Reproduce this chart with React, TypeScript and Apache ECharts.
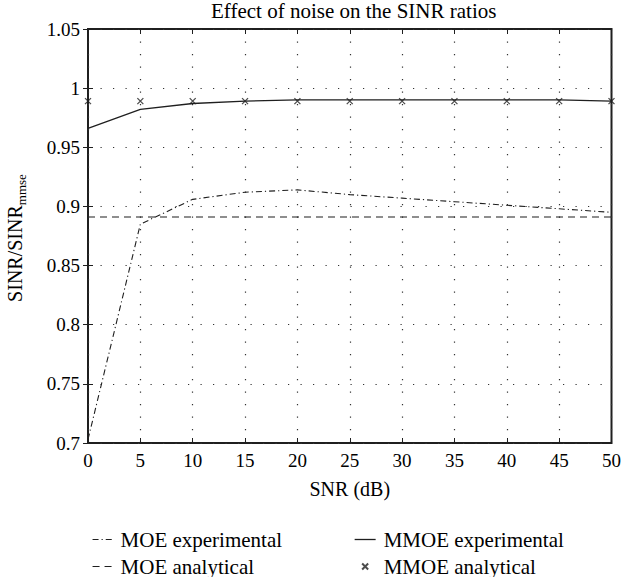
import React, { useEffect, useRef } from "react";
import * as echarts from "echarts";

const snrValues = [0, 5, 10, 15, 20, 25, 30, 35, 40, 45, 50];
const moeExperimental = [0.703, 0.885, 0.906, 0.912, 0.914, 0.910, 0.907, 0.904, 0.901, 0.898, 0.895];
const moeAnalytical = [0.891, 0.891, 0.891, 0.891, 0.891, 0.891, 0.891, 0.891, 0.891, 0.891, 0.891];
const mmoeExperimental = [0.966, 0.982, 0.987, 0.989, 0.990, 0.990, 0.990, 0.990, 0.990, 0.990, 0.989];
const mmoeAnalytical = [0.989, 0.989, 0.989, 0.989, 0.989, 0.989, 0.989, 0.989, 0.989, 0.989, 0.989];

const seriesNames = ["MOE experimental", "MOE analytical", "MMOE experimental", "MMOE analytical"];
const titleText = "Effect of noise on the SINR ratios";
const xAxisName = "SNR (dB)";

const FONT = "Liberation Serif, serif";
const INK = "#1f1f1f";

function pairs(ys: number[]) {
  return snrValues.map((x, i) => [x, ys[i]]);
}

export default function App() {
  const ref = useRef<HTMLDivElement>(null);

  useEffect(() => {
    if (!ref.current) return;
    const chart = echarts.init(ref.current, undefined, { renderer: "svg" });

    const gridDots = { show: true, lineStyle: { color: "#333", width: 1.2, type: [1.2, 11.3] as any } };
    const inTick = { show: true, inside: true, length: 5, lineStyle: { color: INK, width: 1 } };
    const legendText = { fontFamily: FONT, fontSize: 21, color: "#000", lineHeight: 20, padding: [0, 0, 0, 3] };

    chart.setOption({
      animation: false,
      backgroundColor: "#fff",
      textStyle: { fontFamily: FONT },
      title: {
        text: titleText,
        left: 211,
        top: 0,
        padding: 0,
        textStyle: { fontFamily: FONT, fontSize: 21, fontWeight: "normal", color: "#000" },
      },
      grid: {
        left: 88,
        top: 29,
        width: 526,
        height: 414,
        show: true,
        borderColor: INK,
        borderWidth: 2,
        backgroundColor: "transparent",
      },
      xAxis: [
        {
          type: "value",
          min: 0,
          max: 50,
          interval: 5,
          name: xAxisName,
          nameLocation: "middle",
          nameGap: 36,
          nameTextStyle: { fontFamily: FONT, fontSize: 20, color: "#000" },
          axisLine: { show: false },
          axisTick: inTick,
          axisLabel: { fontFamily: FONT, fontSize: 19, color: "#000", margin: 8 },
          splitLine: gridDots,
        },
        {
          type: "value",
          position: "top",
          min: 0,
          max: 50,
          interval: 5,
          axisLine: { show: false },
          axisTick: inTick,
          axisLabel: { show: false },
          splitLine: { show: false },
        },
      ],
      yAxis: [
        {
          type: "value",
          min: 0.7,
          max: 1.05,
          interval: 0.05,
          axisLine: { show: false },
          axisTick: inTick,
          axisLabel: { fontFamily: FONT, fontSize: 19, color: "#000", margin: 8 },
          splitLine: gridDots,
        },
        {
          type: "value",
          position: "right",
          min: 0.7,
          max: 1.05,
          interval: 0.05,
          axisLine: { show: false },
          axisTick: inTick,
          axisLabel: { show: false },
          splitLine: { show: false },
        },
      ],
      legend: [
        {
          left: 92,
          top: 529,
          orient: "vertical",
          padding: 0,
          itemGap: 6,
          itemWidth: 20,
          itemHeight: 14,
          lineStyle: { width: 1.1 },
          data: [
            { name: seriesNames[0], itemStyle: { opacity: 0 } },
            { name: seriesNames[1], itemStyle: { opacity: 0 } },
          ],
          textStyle: legendText,
        },
        {
          left: 354,
          top: 529,
          orient: "vertical",
          padding: 0,
          itemGap: 6,
          itemWidth: 21,
          itemHeight: 6,
          lineStyle: { width: 1.3 },
          data: [
            { name: seriesNames[2], itemStyle: { opacity: 0 } },
            { name: seriesNames[3] },
          ],
          textStyle: legendText,
        },
      ],
      graphic: [
        {
          type: "text",
          x: 15,
          y: 238,
          rotation: Math.PI / 2,
          style: {
            text: "{a|SINR/SINR}{b|mmse}",
            align: "center",
            verticalAlign: "middle",
            fill: "#000",
            fontFamily: FONT,
            fontSize: 20,
            rich: {
              a: { fontFamily: FONT, fontSize: 20, lineHeight: 26, verticalAlign: "middle", fill: "#000" },
              b: { fontFamily: FONT, fontSize: 13, lineHeight: 13, verticalAlign: "bottom", fill: "#000" },
            },
          },
        },
      ],
      series: [
        {
          name: seriesNames[0],
          type: "line",
          data: pairs(moeExperimental),
          symbol: "none",
          color: INK,
          itemStyle: { opacity: 0 },
          lineStyle: { color: INK, width: 1.1, type: [6, 3, 1.2, 3] },
        },
        {
          name: seriesNames[1],
          type: "line",
          data: pairs(moeAnalytical),
          symbol: "none",
          color: INK,
          itemStyle: { opacity: 0 },
          lineStyle: { color: INK, width: 1.1, type: [7, 5] },
        },
        {
          name: seriesNames[2],
          type: "line",
          data: pairs(mmoeExperimental),
          symbol: "none",
          color: INK,
          itemStyle: { opacity: 0 },
          lineStyle: { color: INK, width: 1.3, type: "solid" },
        },
        {
          name: seriesNames[3],
          type: "scatter",
          data: pairs(mmoeAnalytical),
          symbol: "path://M0,0L10,10M10,0L0,10",
          symbolSize: 6,
          itemStyle: { color: "rgba(0,0,0,0)", borderColor: INK, borderWidth: 1.3 },
          z: 5,
        },
      ],
    });

    return () => chart.dispose();
  }, []);

  return (
    <div
      ref={ref}
      style={{ position: "absolute", left: 0, top: 0, width: 624, height: 577, background: "#fff" }}
    />
  );
}
